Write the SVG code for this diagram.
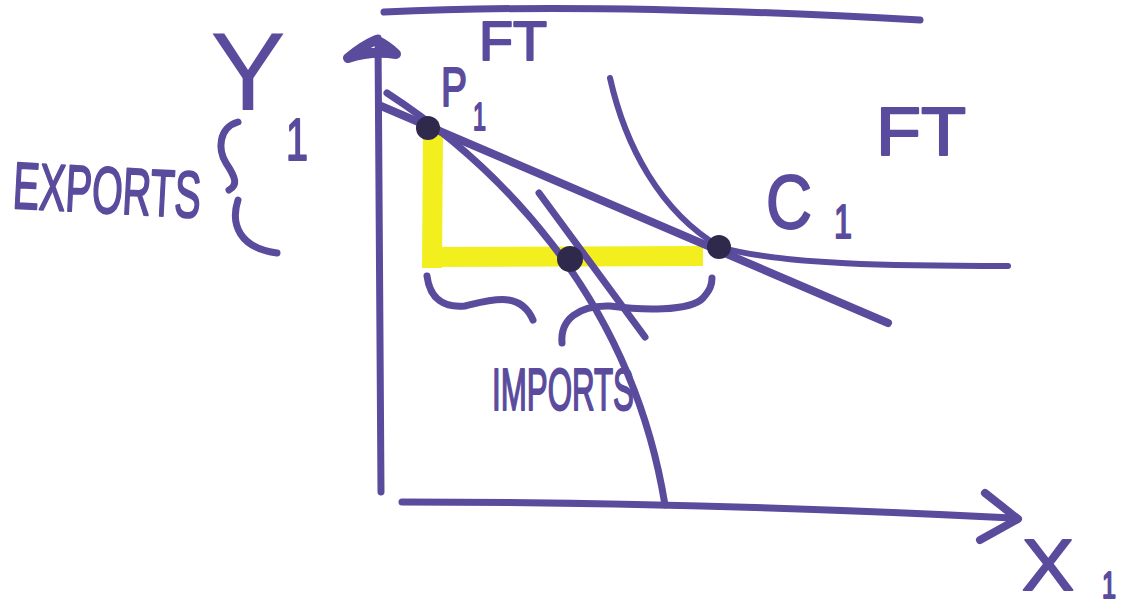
<svg xmlns="http://www.w3.org/2000/svg" width="1126" height="608" viewBox="0 0 1126 608">
<style>
.ink{fill:none;stroke:#5a4b9d;stroke-linecap:round;stroke-linejoin:round}
.hl{fill:none;stroke:#f3ef1e;stroke-linecap:butt}
.dot{fill:#2f2a4c}
.lbl{font-family:"Liberation Sans",Arial,sans-serif;fill:#5a4b9d;stroke:#5a4b9d;stroke-width:2;stroke-linejoin:round}
.thin{stroke-width:0}
</style>
<rect width="1126" height="608" fill="#ffffff"/>
<g id="highlight">
<path class="hl" d="M433,133 L432,268" stroke-width="20"/>
<path class="hl" d="M424,257 L703,256" stroke-width="20"/>
</g>
<g id="connectors">
<path id="top-line" class="ink" stroke-width="7" d="M384,12 Q600,2 920,20"/>
<path id="y-axis" class="ink" stroke-width="7" d="M378,38 L381,492"/>
<path id="y-arrow" class="ink" stroke-width="10" fill="#5a4b9d" d="M348,58 Q362,46 376,40 Q388,46 396,54 Q372,50 348,58 Z"/>
<path id="x-axis" class="ink" stroke-width="7" d="M402,502 Q700,502 1012,518"/>
<path id="x-arrow" class="ink" stroke-width="8" d="M985,493 L1018,519 L980,540"/>
<path id="price-line" class="ink" stroke-width="8" d="M381,106 L888,323"/>
<path id="ppf" class="ink" stroke-width="7" d="M387,93 C490,160 630,290 665,505"/>
<path id="autarky-tangent" class="ink" stroke-width="7" d="M539,193 L645,337"/>
<path id="indifference" class="ink" stroke-width="6" d="M610,78 C625,145 660,212 720,247 C780,265 900,266 1008,266"/>
<path id="brace-exports-top" class="ink" stroke-width="7" d="M238,122 C218,128 218,150 226,163 C236,178 238,185 229,190"/>
<path id="brace-exports-bottom" class="ink" stroke-width="7" d="M238,200 C230,225 240,248 277,253"/>
<path id="brace-imports-left" class="ink" stroke-width="7" d="M427,276 C430,300 445,308 465,306 C490,300 520,290 533,320"/>
<path id="brace-imports-right" class="ink" stroke-width="7" d="M562,343 C560,320 578,305 610,306 C640,310 690,312 703,298 C710,290 712,285 712,278"/>
</g>
<g id="point-production-ft">
<circle class="dot" cx="428" cy="128" r="12"/>
</g>
<g id="point-autarky">
<circle class="dot" cx="570" cy="259" r="13"/>
</g>
<g id="point-consumption-ft">
<circle class="dot" cx="719" cy="247" r="12"/>
</g>
<g id="label-y">
<text class="lbl thin" x="210" y="110" font-size="112" textLength="76" lengthAdjust="spacingAndGlyphs">Y</text>
<text class="lbl" x="286" y="160" font-size="60" textLength="22" lengthAdjust="spacingAndGlyphs">1</text>
</g>
<g id="label-exports">
<text class="lbl" x="12" y="208" font-size="66" textLength="188" lengthAdjust="spacingAndGlyphs" transform="rotate(3 12 208)">EXPORTS</text>
</g>
<g id="label-p1ft">
<text class="lbl" x="441" y="106" font-size="56" textLength="26" lengthAdjust="spacingAndGlyphs">P</text>
<text class="lbl" x="473" y="130" font-size="38" textLength="13" lengthAdjust="spacingAndGlyphs">1</text>
<text class="lbl" x="479" y="60" font-size="56" textLength="68" lengthAdjust="spacingAndGlyphs">FT</text>
</g>
<g id="label-c1ft">
<text class="lbl" x="766" y="228" font-size="76" textLength="46" lengthAdjust="spacingAndGlyphs">C</text>
<text class="lbl" x="834" y="238" font-size="48" textLength="18" lengthAdjust="spacingAndGlyphs">1</text>
<text class="lbl" x="876" y="155" font-size="68" textLength="90" lengthAdjust="spacingAndGlyphs">FT</text>
</g>
<g id="label-imports">
<text class="lbl" x="492" y="410" font-size="60" textLength="142" lengthAdjust="spacingAndGlyphs">IMPORTS</text>
</g>
<g id="label-x">
<text class="lbl" x="1022" y="590" font-size="72" textLength="52" lengthAdjust="spacingAndGlyphs">X</text>
<text class="lbl" x="1102" y="598" font-size="36" textLength="14" lengthAdjust="spacingAndGlyphs">1</text>
</g>
</svg>
